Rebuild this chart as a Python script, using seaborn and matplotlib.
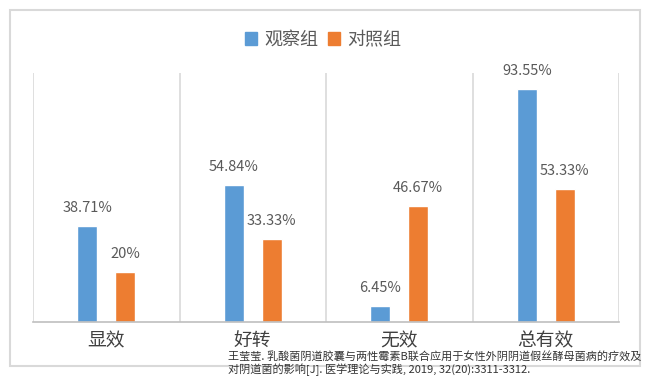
import matplotlib
matplotlib.use("Agg")
import matplotlib.pyplot as plt
import seaborn as sns
import pandas as pd
from matplotlib.patches import Rectangle, Patch

categories = ["显效", "好转", "无效", "总有效"]
groups = ["观察组", "对照组"]
obs_values = [38.71, 54.84, 6.45, 93.55]
ctrl_values = [20, 33.33, 46.67, 53.33]
source_note = "王莹莹. 乳酸菌阴道胶囊与两性霉素B联合应用于女性外阴阴道假丝酵母菌病的疗效及\n对阴道菌的影响[J]. 医学理论与实践, 2019, 32(20):3311-3312."

sns.set_style("white")
plt.rcParams['font.family'] = ['Noto Sans CJK SC', 'DejaVu Sans']

df = pd.DataFrame({
    "cat": categories * 2,
    "group": [groups[0]] * 4 + [groups[1]] * 4,
    "value": obs_values + ctrl_values,
})

W, H = 651, 377
fig = plt.figure(figsize=(W / 100, H / 100), dpi=100)
ax = fig.add_axes([33 / W, 1 - 322 / H, (619 - 33) / W, (322 - 73) / H])

colors = ["#5B9BD5", "#ED7D31"]
sns.barplot(data=df, x="cat", y="value", hue="group", palette=colors,
            width=0.517, gap=0.474, ax=ax, legend=False, saturation=1)

ax.set_ylim(0, 100)
ax.set_xlim(-0.5, 3.5)
ax.set_yticks([])
ax.set_xlabel("")
ax.set_ylabel("")
for s in ["top", "right", "left"]:
    ax.spines[s].set_visible(False)
ax.spines["bottom"].set_color("#BFBFBF")
ax.spines["bottom"].set_linewidth(1.2)
ax.tick_params(axis="x", length=0, pad=6, labelsize=13.5, labelcolor="#404040")

for b in [-0.5, 0.5, 1.5, 2.5, 3.5]:
    ax.axvline(b, color="#D9D9D9", lw=1.2, zorder=0)

for cont in ax.containers:
    ax.bar_label(cont, labels=[f"{v:g}%" for v in cont.datavalues],
                 padding=8, fontsize=10.5, color="#595959")

handles = [Patch(color=c, label=g) for c, g in zip(colors, groups)]
fig.legend(handles=handles, loc="center", bbox_to_anchor=(323 / W, 1 - 40 / H),
           ncol=2, frameon=False, fontsize=13, handlelength=0.7, handleheight=0.7,
           handletextpad=0.4, columnspacing=0.5, labelcolor="#595959")

fig.patches.append(Rectangle((10 / W, 1 - 366 / H), (640 - 10) / W, (366 - 10) / H,
                             transform=fig.transFigure, fill=False,
                             edgecolor="#D9D9D9", lw=1.5, zorder=-1))

fig.text(228 / W, 1 - 376 / H, source_note, fontsize=8, color="#333333",
         ha="left", va="bottom", linespacing=1.15)

fig.savefig("out.png", dpi=100)
